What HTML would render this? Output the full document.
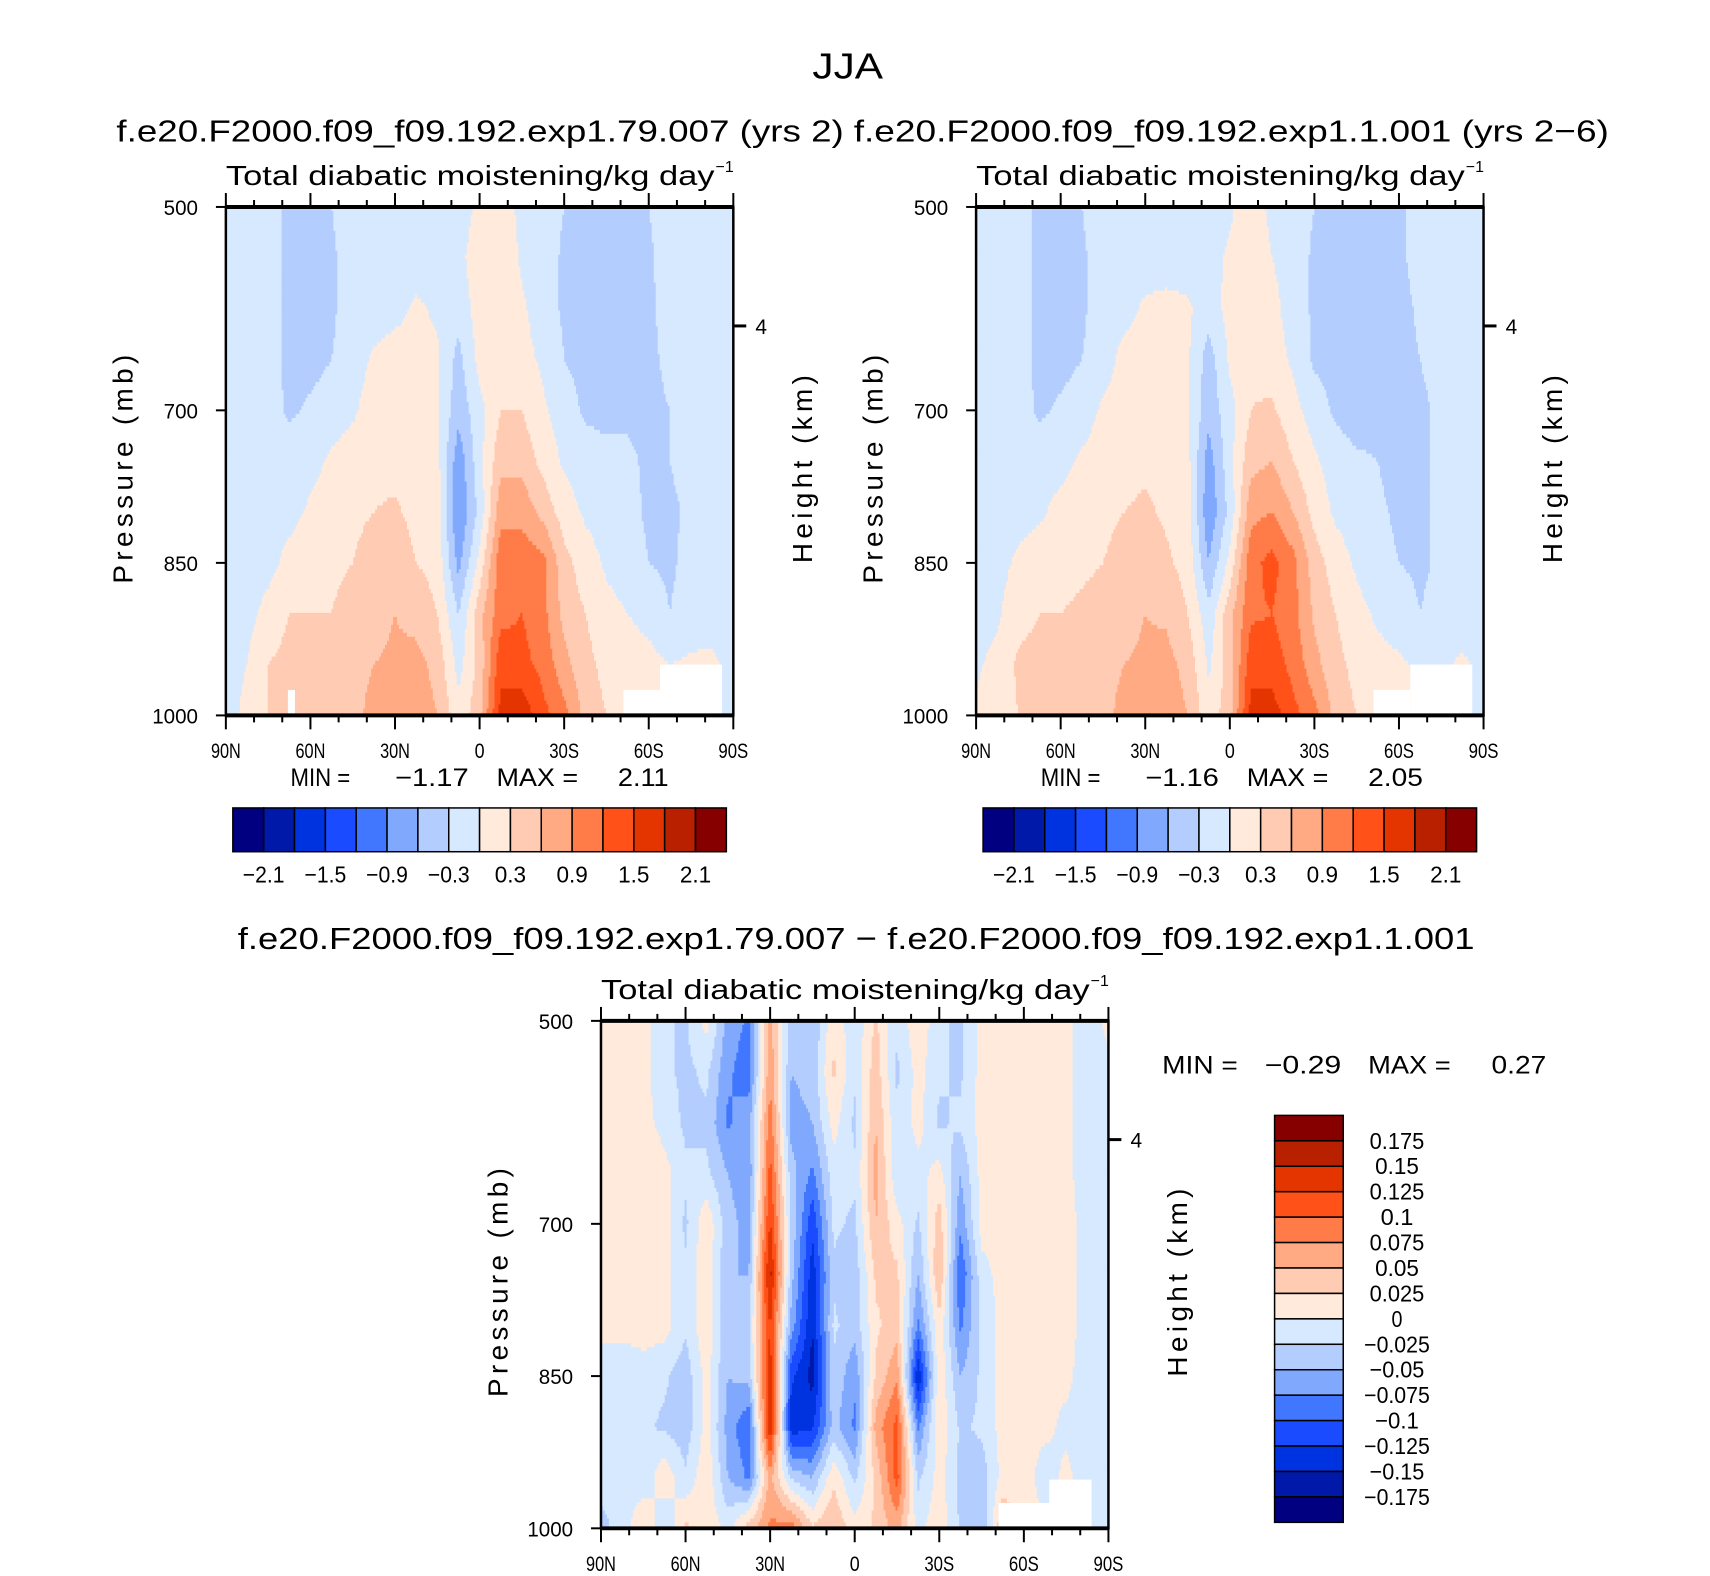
<!DOCTYPE html>
<html><head><meta charset="utf-8"><style>
html,body{margin:0;padding:0;background:#fff;}
svg{display:block;font-family:"Liberation Sans",sans-serif;}
</style></head><body>
<svg id="fig" width="1710" height="1576" viewBox="0 0 1710 1576" xmlns="http://www.w3.org/2000/svg">
<rect width="1710" height="1576" fill="#fff"/>
<g transform="scale(0.995)">
<text x="852" y="79" font-size="36" text-anchor="middle" textLength="71" lengthAdjust="spacingAndGlyphs">JJA</text>
<text x="117" y="142" font-size="31" textLength="731" lengthAdjust="spacingAndGlyphs">f.e20.F2000.f09_f09.192.exp1.79.007 (yrs 2)</text>
<text x="858" y="142" font-size="31" textLength="759" lengthAdjust="spacingAndGlyphs">f.e20.F2000.f09_f09.192.exp1.1.001 (yrs 2−6)</text>
<text x="239" y="954" font-size="31" textLength="1243" lengthAdjust="spacingAndGlyphs">f.e20.F2000.f09_f09.192.exp1.79.007 − f.e20.F2000.f09_f09.192.exp1.1.001</text>
<g id="layer"></g>
</g>
</svg>
<script>
// ---- data ----
const lats = [90,82.5,75,67.5,60,52.5,45,37.5,30,22.5,15,7.5,0,-7.5,-15,-22.5,-30,-37.5,-45,-52.5,-60,-67.5,-75,-82.5,-90];
const levelsP = [500,550,600,650,700,750,800,850,900,950,1000];
const topLevels = [-2.1,-1.8,-1.5,-1.2,-0.9,-0.6,-0.3,0,0.3,0.6,0.9,1.2,1.5,1.8,2.1];
const diffLevels = [-0.175,-0.15,-0.125,-0.1,-0.075,-0.05,-0.025,0,0.025,0.05,0.075,0.1,0.125,0.15,0.175];
const palette = ['#000080','#0019a8','#0033e0','#1a4bfe','#4077fe','#80a9fe','#b2cdfe','#d6e9ff','#ffeadb','#ffcbb3','#ffaa82','#ff7b47','#ff5118','#e43400','#b82000','#870000'];
const topTickLabels = ['−2.1','−1.5','−0.9','−0.3','0.3','0.9','1.5','2.1'];
const diffTickLabels = ['0.175','0.15','0.125','0.1','0.075','0.05','0.025','0','−0.025','−0.05','−0.075','−0.1','−0.125','−0.15','−0.175'];
const xTickLabels = ['90N','60N','30N','0','30S','60S','90S'];
const yTickLabels = ['500','700','850','1000'];
const gridLeft = [
[-.15,-.15,-.15,-.4,-.4,-.3,-.15,-.15,-.15,-.15,-.15,-.2,.1,.2,-.1,-.15,-.3,-.4,-.4,-.4,-.3,-.15,-.15,-.15,-.15],
[-.15,-.15,-.15,-.4,-.4,-.35,-.15,-.15,-.15,-.15,-.15,-.1,.2,.25,-.05,-.15,-.35,-.4,-.4,-.4,-.35,-.15,-.15,-.15,-.15],
[-.15,-.15,-.15,-.4,-.4,-.35,-.15,-.15,-.1,.05,-.05,-.2,.15,.25,.05,-.15,-.35,-.4,-.4,-.4,-.35,-.2,-.15,-.15,-.15],
[-.15,-.15,-.15,-.4,-.4,-.3,-.15,.05,.15,.1,.05,-.4,.1,.25,.1,-.05,-.3,-.4,-.4,-.4,-.35,-.25,-.2,-.15,-.15],
[-.15,-.15,-.15,-.35,-.25,-.15,-.05,.15,.2,.15,.05,-.5,-.1,.3,.3,.05,-.15,-.35,-.4,-.35,-.35,-.3,-.2,-.15,-.15],
[-.15,-.15,-.15,-.15,-.1,.05,.15,.2,.2,.15,.1,-.8,-.1,.5,.5,.2,-.05,-.15,-.2,-.25,-.35,-.3,-.2,-.15,-.15],
[-.15,-.15,-.15,-.1,.05,.15,.2,.3,.35,.2,.15,-.9,-.2,.8,.8,.5,.15,-.05,-.15,-.2,-.35,-.35,-.25,-.15,-.15],
[-.15,-.15,-.1,.1,.2,.25,.3,.5,.5,.3,.2,-.7,.1,1.1,1.1,1.0,.4,.15,-.05,-.15,-.3,-.35,-.2,-.15,-.15],
[-.15,-.1,.1,.3,.3,.3,.4,.5,.6,.5,.3,-.3,.5,1.1,1.2,1.0,.5,.3,.1,.0,-.1,-.3,-.15,-.1,-.15],
[-.15,.0,.3,.4,.4,.4,.5,.6,.65,.7,.5,-.1,.4,1.4,1.3,1.1,.7,.4,.2,.15,.1,.0,.05,.05,-.1],
[-.15,.1,.3,.35,.4,.4,.5,.7,.8,.8,.6,.1,.5,1.6,1.7,1.3,1.0,.5,.3,.2,.1,.05,.05,.05,-.1]];
const gridRight = [
[-.15,-.15,-.15,-.4,-.4,-.3,-.15,-.15,-.15,-.15,-.15,-.25,-.05,.2,-.1,-.15,-.3,-.4,-.45,-.4,-.35,-.2,-.15,-.15,-.15],
[-.15,-.15,-.15,-.4,-.4,-.35,-.15,-.15,-.15,-.15,-.15,-.1,.05,.25,.0,-.15,-.35,-.4,-.45,-.4,-.35,-.2,-.15,-.15,-.15],
[-.15,-.15,-.15,-.4,-.4,-.35,-.15,-.1,.05,.1,.05,-.15,.1,.25,.1,-.15,-.35,-.4,-.45,-.4,-.4,-.25,-.15,-.15,-.15],
[-.15,-.15,-.15,-.4,-.4,-.3,-.15,.1,.15,.15,.05,-.45,.05,.25,.15,-.05,-.35,-.4,-.45,-.4,-.4,-.3,-.2,-.15,-.15],
[-.15,-.15,-.15,-.35,-.25,-.15,.05,.15,.2,.15,.05,-.5,-.1,.3,.35,.1,-.15,-.35,-.45,-.4,-.4,-.35,-.25,-.15,-.15],
[-.15,-.15,-.15,-.15,-.1,.05,.15,.2,.25,.2,.1,-.75,-.1,.5,.6,.3,.05,-.15,-.25,-.3,-.4,-.35,-.25,-.15,-.15],
[-.15,-.15,-.1,-.05,.1,.15,.2,.3,.35,.25,.15,-.85,-.2,.8,.9,.6,.2,-.05,-.15,-.25,-.35,-.35,-.25,-.15,-.15],
[-.15,-.1,.05,.15,.2,.25,.3,.45,.5,.35,.2,-.6,.1,1.1,1.3,1.0,.45,.15,-.05,-.2,-.3,-.35,-.25,-.15,-.15],
[-.15,-.05,.2,.3,.3,.35,.4,.5,.6,.55,.3,-.2,.5,1.15,1.2,1.0,.55,.3,.1,-.05,-.15,-.3,-.2,-.15,-.15],
[-.05,.1,.35,.4,.45,.45,.5,.6,.65,.7,.5,-.05,.45,1.4,1.35,1.1,.7,.4,.2,.1,.05,-.05,-.05,.05,-.1],
[.05,.15,.3,.35,.4,.45,.5,.7,.8,.8,.6,.1,.5,1.6,1.65,1.3,1.0,.5,.3,.15,.1,.05,.05,.05,-.1]];
const gridDiff = [
[.01,.01,.01,-.02,-.03,.01,-.06,-.08,.06,-.04,-.05,.02,-.02,.03,-.02,.02,-.02,-.03,.01,.01,.01,.01,.01,-.02,.01],
[.01,.01,.01,-.02,-.03,-.02,-.07,-.09,.07,-.05,-.04,.03,-.02,.04,-.03,.01,-.02,-.03,.01,.01,.01,.01,.01,-.02,-.01],
[.01,.01,.01,-.01,-.03,-.03,-.08,-.06,.09,-.06,-.05,.01,-.03,.05,-.02,.01,-.03,-.02,.01,.01,.01,.01,.01,-.02,-.01],
[.01,.01,.02,.01,-.02,-.02,-.05,-.07,.11,-.04,-.08,-.01,-.02,.06,-.02,-.01,.01,-.05,.01,.01,.01,.01,.01,-.02,-.01],
[.01,.01,.01,.01,-.03,.02,-.04,-.06,.13,-.03,-.12,-.02,-.03,.05,.01,-.03,.04,-.07,.01,.01,.01,.01,.01,-.01,-.01],
[.01,.01,.01,.01,-.02,.02,-.05,-.05,.16,-.04,-.14,-.03,-.04,.03,.03,-.05,.05,-.1,-.01,.01,.01,.01,.01,-.01,-.01],
[.01,.01,.01,.01,-.02,.02,-.05,-.03,.13,-.06,-.15,-.02,-.04,.02,.04,-.08,.02,-.08,-.02,.01,.01,.01,.01,-.01,-.01],
[-.02,-.02,-.01,-.02,-.04,.01,-.05,-.04,.14,-.12,-.16,-.03,-.07,.03,.07,-.15,.02,-.05,-.02,.01,.01,.01,.01,-.02,-.01],
[-.02,-.01,-.02,-.03,-.04,.01,-.06,-.1,.15,-.14,-.13,-.04,-.08,.06,.11,-.08,.02,-.03,-.02,.01,.01,.01,-.01,-.02,-.01],
[-.02,-.01,-.02,.02,-.02,.02,-.05,-.08,.06,-.03,-.05,.02,-.03,.03,.11,-.03,.01,-.03,-.04,.01,.02,-.02,.01,-.02,-.01],
[-.03,-.02,.03,-.03,.03,.02,-.01,.04,.08,.09,.03,.05,.01,.03,.06,-.01,.02,-.03,-.05,.05,.01,.01,-.01,-.02,-.01]];
// missing-data regions [lat0, lat1, p0, p1]
const missingLeft = [[-51,-64,975,1000],[-64,-86,950,1000],[68,65.5,975,1000]];
const missingRight = [[-51,-64,975,1000],[-64,-86,950,1000]];
const missingDiff = [[-51,-84,975,1000],[-69,-84,952,1000]];

const NS='http://www.w3.org/2000/svg';
const layer=document.getElementById('layer');
function mk(tag,attrs,parent){const e=document.createElementNS(NS,tag);for(const k in attrs)e.setAttribute(k,attrs[k]);(parent||layer).appendChild(e);return e;}
function colorFor(v,levels){let i=0;while(i<levels.length&&v>=levels[i])i++;return palette[i];}

function drawPanel(P){
  const g=mk('g',{});
  
  
  const xS=lat=>P.x0+(90-lat)/180*P.w;
  const yS=p=>P.y0+(p-500)/500*P.h;
  const nc=lats.length-1, nr=levelsP.length-1;
  const st=4;
  for(let y=0;y<P.h;y+=st){
    const v=Math.min((y+st/2)/P.h*nr,nr-1e-6);const r=Math.floor(v),fy=v-r;
    let runStart=0,runCol=null;
    for(let x=0;x<=P.w;x+=2){
      let col=null;
      if(x<P.w){
        const u=Math.min((x+1)/P.w*nc,nc-1e-6);const c=Math.floor(u),fx=u-c;
        const G=P.grid;
        const val=G[r][c]*(1-fx)*(1-fy)+G[r][c+1]*fx*(1-fy)+G[r+1][c]*(1-fx)*fy+G[r+1][c+1]*fx*fy;
        col=colorFor(val,P.levels);
      }
      if(col!==runCol){
        if(runCol!==null){
          const rc=mk('rect',{x:P.x0+runStart,y:P.y0+y,width:x-runStart+0.6,height:Math.min(st,P.h-y)+0.6,fill:runCol},g);
          
          
        }
        runStart=x;runCol=col;
      }
    }
  }
  P.missing.forEach(m=>{
    const a=xS(m[0]),b=xS(m[1]);
    const mr=mk('rect',{x:Math.min(a,b),y:yS(m[2]),width:Math.abs(b-a),height:yS(m[3])-yS(m[2]),fill:'#fff'},g);
    
    
  });
  const ax=mk('g',{stroke:'#000','stroke-width':2.5,fill:'none'});
  
  
  mk('rect',{x:P.x0,y:P.y0,width:P.w,height:P.h},ax);
  mk('line',{x1:P.x0,x2:P.x0+P.w,y1:P.y0,y2:P.y0,'stroke-width':4},ax);
  mk('line',{x1:P.x0,x2:P.x0+P.w,y1:P.y0+P.h,y2:P.y0+P.h,'stroke-width':4},ax);
  for(let lat=90;lat>=-90;lat-=10){
    const x=xS(lat);const major=(lat%30===0);const L=major?14:7;
    mk('line',{x1:x,x2:x,y1:P.y0,y2:P.y0-L,'stroke-width':2},ax);
    mk('line',{x1:x,x2:x,y1:P.y0+P.h,y2:P.y0+P.h+L,'stroke-width':2},ax);
  }
  xTickLabels.forEach((t,i)=>{
    const tx=mk('text',{x:xS(90-30*i),y:P.y0+P.h+43,'font-size':21,'text-anchor':'middle',textLength:t.length*10,lengthAdjust:'spacingAndGlyphs'});
    tx.textContent=t;
    
    
  });
  yTickLabels.forEach(t=>{
    const p=+t;
    mk('line',{x1:P.x0,x2:P.x0-10,y1:yS(p),y2:yS(p),'stroke-width':2},ax);
    const tx=mk('text',{x:P.x0-28,y:yS(p)+8,'font-size':21,'text-anchor':'end',textLength:t.length*11.5,lengthAdjust:'spacingAndGlyphs'});
    tx.textContent=t;
    
    
  });
  mk('line',{x1:P.x0+P.w,x2:P.x0+P.w+13,y1:P.y0+P.h*0.234,y2:P.y0+P.h*0.234,'stroke-width':3},ax);
  const h4=mk('text',{x:P.x0+P.w+28,y:P.y0+P.h*0.234+8,'font-size':21,'text-anchor':'middle'});
  h4.textContent='4';
  
  
  const tt=mk('text',{x:P.x0,y:P.y0-22,'font-size':28,textLength:P.w*0.963,lengthAdjust:'spacingAndGlyphs'});
  tt.textContent='Total diabatic moistening/kg day';
  
  
  const sup=mk('text',{x:P.x0+P.w*0.965,y:P.y0-35,'font-size':16});
  sup.textContent='−1';
  
  
  const pl=mk('text',{x:0,y:0,'font-size':28,'text-anchor':'middle',textLength:230,lengthAdjust:'spacing',transform:`translate(${P.x0-94},${P.y0+P.h/2+8}) rotate(-90)`});
  pl.textContent='Pressure  (mb)';
  
  
  const hl=mk('text',{x:0,y:0,'font-size':28,'text-anchor':'middle',textLength:189,lengthAdjust:'spacing',transform:`translate(${P.x0+P.w+79},${P.y0+P.h/2+8}) rotate(-90)`});
  hl.textContent='Height  (km)';
  
  
}

function hColorbar(x0,y0,w,h,name){
  const g=mk('g',{});
  
  
  const bw=w/palette.length;
  palette.forEach((c,i)=>{
    const r=mk('rect',{x:x0+i*bw,y:y0,width:bw,height:h,fill:c,stroke:'#000','stroke-width':1.5},g);
    
    
  });
  topTickLabels.forEach((t,k)=>{
    const tx=mk('text',{x:x0+(1+2*k)*bw,y:y0+h+31,'font-size':23,'text-anchor':'middle',textLength:t.length*10.5,lengthAdjust:'spacingAndGlyphs'},g);
    tx.textContent=t;
    
    
  });
}
function vColorbar(x0,y0,w,h){
  const g=mk('g',{});
  
  
  const bh=h/palette.length;
  palette.slice().reverse().forEach((c,i)=>{
    const r=mk('rect',{x:x0,y:y0+i*bh,width:w,height:bh,fill:c,stroke:'#000','stroke-width':1.5},g);
    
    
  });
  diffTickLabels.forEach((t,k)=>{
    const tx=mk('text',{x:x0+w+54,y:y0+(k+1)*bh+8,'font-size':23,'text-anchor':'middle',textLength:t.length*11,lengthAdjust:'spacingAndGlyphs'},g);
    tx.textContent=t;
    
    
  });
}
function minmax(parts,y,name){
  const g=mk('g',{});
  
  
  parts.forEach(p=>{
    const t=mk('text',{x:p[0],y:y,'font-size':25,textLength:p[1]-p[0],lengthAdjust:'spacingAndGlyphs'},g);
    t.textContent=p[2];
    
    
  });
}

drawPanel({name:'left-contour-plot',x0:227,y0:208,w:510,h:511,grid:gridLeft,levels:topLevels,missing:missingLeft});
drawPanel({name:'right-contour-plot',x0:981,y0:208,w:510,h:511,grid:gridRight,levels:topLevels,missing:missingRight});
drawPanel({name:'difference-contour-plot',x0:604,y0:1026,w:510,h:510,grid:gridDiff,levels:diffLevels,missing:missingDiff});
hColorbar(234,812,496,44,'left-colorbar');
hColorbar(988,812,496,44,'right-colorbar');
vColorbar(1281,1121,69,409);
minmax([[292,352,'MIN ='],[397,471,'−1.17'],[499,581,'MAX ='],[621,672,'2.11']],790,'left-min-max');
minmax([[1046,1106,'MIN ='],[1151,1225,'−1.16'],[1253,1335,'MAX ='],[1375,1430,'2.05']],790,'right-min-max');
minmax([[1168,1244,'MIN ='],[1271,1348,'−0.29'],[1375,1458,'MAX ='],[1499,1554,'0.27']],1079,'difference-min-max');
</script>
</body></html>
